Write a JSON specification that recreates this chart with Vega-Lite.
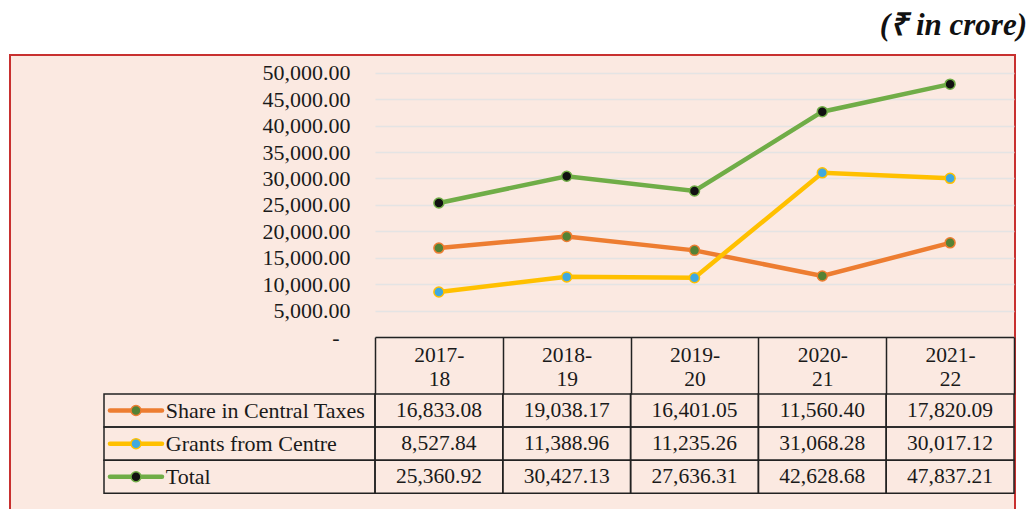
{
  "$schema": "https://vega.github.io/schema/vega-lite/v6.json",
  "width": 1005,
  "height": 470,
  "autosize": {"type": "none"},
  "padding": {"left": 10, "top": 55, "right": 15, "bottom": 0},
  "background": "white",
  "title": {"text": "(₹ in crore)", "anchor": "end", "frame": "group", "font": "Liberation Serif", "fontSize": 31, "fontWeight": "bold", "fontStyle": "italic", "color": "#111111", "baseline": "alphabetic", "offset": -11, "dx": 12},
  "config": {
    "view": {"fill": "#FBE9E1", "stroke": "#C8302F", "strokeWidth": 2},
    "axis": {"labelFont": "Liberation Serif"}
  },
  "data": {"values": [
    {"year": "2017-18", "series": "Share in Central Taxes", "value": 16833.08},
    {"year": "2018-19", "series": "Share in Central Taxes", "value": 19038.17},
    {"year": "2019-20", "series": "Share in Central Taxes", "value": 16401.05},
    {"year": "2020-21", "series": "Share in Central Taxes", "value": 11560.40},
    {"year": "2021-22", "series": "Share in Central Taxes", "value": 17820.09},
    {"year": "2017-18", "series": "Grants from Centre", "value": 8527.84},
    {"year": "2018-19", "series": "Grants from Centre", "value": 11388.96},
    {"year": "2019-20", "series": "Grants from Centre", "value": 11235.26},
    {"year": "2020-21", "series": "Grants from Centre", "value": 31068.28},
    {"year": "2021-22", "series": "Grants from Centre", "value": 30017.12},
    {"year": "2017-18", "series": "Total", "value": 25360.92},
    {"year": "2018-19", "series": "Total", "value": 30427.13},
    {"year": "2019-20", "series": "Total", "value": 27636.31},
    {"year": "2020-21", "series": "Total", "value": 42628.68},
    {"year": "2021-22", "series": "Total", "value": 47837.21}
  ]},
  "layer": [
    {
      "encoding": {
        "x": {"field": "year", "type": "nominal", "bandPosition": 0.5,
          "scale": {"type": "band", "range": [365, 1004], "paddingInner": 0, "paddingOuter": 0},
          "axis": {"orient": "bottom", "offset": -187.9, "title": null, "domain": true, "domainColor": "#222222", "domainWidth": 1.5,
            "ticks": true, "tickBand": "extent", "tickSize": 57, "tickColor": "#222222", "tickWidth": 1.5, "grid": false,
            "labelAngle": 0, "labelFontSize": 21.5, "labelColor": "#1a1a1a", "labelPadding": -50, "labelBaseline": "top", "labelLineHeight": 24.5,
            "labelExpr": "[slice(datum.label, 0, 5), slice(datum.label, 5)]"}},
        "y": {"field": "value", "type": "quantitative",
          "scale": {"domain": [0, 50000], "range": [282.1, 17.7], "nice": false},
          "axis": {"orient": "left", "offset": -365, "title": null, "domain": false, "ticks": false, "tickSize": 0,
            "grid": true, "gridColor": "#E4E4E4", "gridWidth": 1.5,
            "values": [0, 5000, 10000, 15000, 20000, 25000, 30000, 35000, 40000, 45000, 50000],
            "labelFontSize": 22, "labelColor": "#1a1a1a",
            "labelPadding": {"condition": {"test": "datum.value == 0", "value": 36}, "value": 25},
            "labelExpr": "datum.value == 0 ? '-' : format(datum.value, ',.2f')"}}
      },
      "layer": [
        {"mark": {"type": "line", "strokeWidth": 4.5},
         "encoding": {"stroke": {"field": "series", "type": "nominal",
           "scale": {"domain": ["Share in Central Taxes", "Grants from Centre", "Total"], "range": ["#ED7D31", "#FFC000", "#70AD47"]}, "legend": null}}},
        {"mark": {"type": "point", "filled": true, "size": 100, "strokeWidth": 1.5, "opacity": 1},
         "encoding": {
           "stroke": {"field": "series", "type": "nominal", "legend": null},
           "fill": {"field": "series", "type": "nominal",
             "scale": {"domain": ["Share in Central Taxes", "Grants from Centre", "Total"], "range": ["#548235", "#3FA9E0", "#111111"]}, "legend": null}}}
      ]
    },
    {
      "layer": [
        {"mark": {"type": "rect", "filled": false, "stroke": "#222222", "strokeWidth": 1.5},
         "encoding": {
           "x": {"field": "year", "type": "nominal", "scale": {"type": "band", "range": [365, 1004], "paddingInner": 0, "paddingOuter": 0}, "axis": null},
           "y": {"field": "series", "type": "nominal", "scale": {"type": "band", "domain": ["Share in Central Taxes", "Grants from Centre", "Total"], "range": [339, 438.3], "paddingInner": 0, "paddingOuter": 0}, "axis": null}}},
        {"mark": {"type": "text", "font": "Liberation Serif", "fontSize": 21.5, "color": "#1a1a1a", "baseline": "middle", "align": "center"},
         "encoding": {
           "x": {"field": "year", "type": "nominal", "bandPosition": 0.5, "axis": null},
           "y": {"field": "series", "type": "nominal", "bandPosition": 0.5, "axis": null},
           "text": {"field": "value", "type": "quantitative", "format": ",.2f"}}}
      ]
    },
    {
      "transform": [{"filter": "datum.year == '2017-18'"}],
      "layer": [
        {"mark": {"type": "rect", "filled": false, "stroke": "#222222", "strokeWidth": 1.5},
         "encoding": {
           "x": {"datum": "legend", "type": "nominal", "scale": {"type": "band", "range": [94, 365], "paddingInner": 0, "paddingOuter": 0}, "axis": null},
           "y": {"field": "series", "type": "nominal", "scale": {"type": "band", "domain": ["Share in Central Taxes", "Grants from Centre", "Total"], "range": [339, 438.3], "paddingInner": 0, "paddingOuter": 0}, "axis": null}}},
        {"mark": {"type": "point", "shape": "M-1,0L1,0", "size": 2704, "strokeWidth": 4.5, "filled": false, "strokeCap": "round", "opacity": 1},
         "encoding": {
           "x": {"datum": "legend", "type": "nominal", "bandPosition": 0.118, "axis": null},
           "y": {"field": "series", "type": "nominal", "bandPosition": 0.5, "axis": null},
           "stroke": {"field": "series", "type": "nominal", "legend": null}}},
        {"mark": {"type": "point", "filled": true, "size": 100, "strokeWidth": 1.5, "opacity": 1},
         "encoding": {
           "x": {"datum": "legend", "type": "nominal", "bandPosition": 0.118, "axis": null},
           "y": {"field": "series", "type": "nominal", "bandPosition": 0.5, "axis": null},
           "stroke": {"field": "series", "type": "nominal", "legend": null},
           "fill": {"field": "series", "type": "nominal", "legend": null}}},
        {"mark": {"type": "text", "font": "Liberation Serif", "fontSize": 22, "color": "#1a1a1a", "baseline": "middle", "align": "left"},
         "encoding": {
           "x": {"datum": "legend", "type": "nominal", "bandPosition": 0.228, "axis": null},
           "y": {"field": "series", "type": "nominal", "bandPosition": 0.5, "axis": null},
           "text": {"field": "series", "type": "nominal"}}}
      ]
    }
  ],
  "resolve": {"scale": {"x": "independent", "y": "independent"}}
}
